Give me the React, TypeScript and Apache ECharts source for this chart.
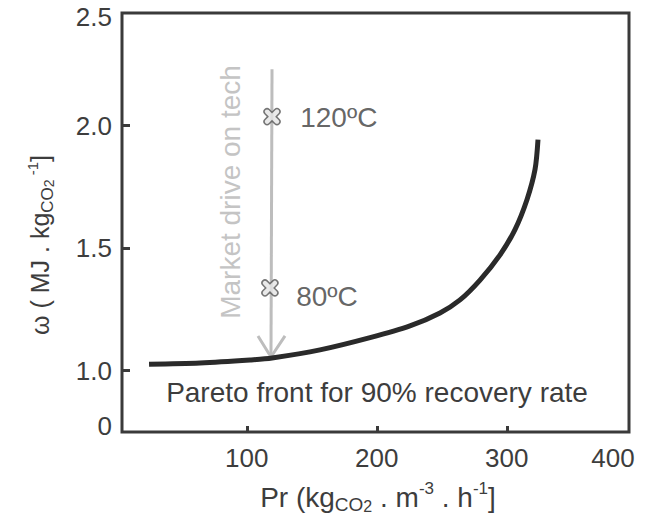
import React, { useEffect, useRef } from 'react';
import * as echarts from 'echarts';

// Pareto front (90% recovery rate)
const paretoX = [24.8, 64, 102.5, 119.4, 156.3, 194.8, 225.5, 248.6, 264, 279.4, 294.8, 306.3, 315.5, 321.7, 324];
const paretoY = [1.027, 1.032, 1.044, 1.052, 1.085, 1.135, 1.183, 1.236, 1.289, 1.37, 1.473, 1.576, 1.698, 1.821, 1.943];

// temperature markers
const tempNames = ['120ºC', '80ºC'];
const tempX = [119.4, 117.8];
const tempY = [2.037, 1.338];

// market drive arrow
const arrowShaftX = [119.4, 118.6];
const arrowShaftY = [2.23, 1.056];
const arrowHeadX = [108.6, 118.6, 129.4];
const arrowHeadY = [1.142, 1.056, 1.142];

// axes
const xMin = 4;
const xMax = 394;
const xTickValues = [100, 200, 300];
const xLabelValues = [100, 200, 300, 394];
const xLabelTexts = ['100', '200', '300', '400'];
const yMin = 0.75;
const yMax = 2.46;
const yTickValues = [1, 1.5, 2];
const yLabelValues = [0.775, 1, 1.5, 2, 2.445];
const yLabelTexts = ['0', '1.0', '1.5', '2.0', '2.5'];

const FONT = 'Liberation Sans, Arial, sans-serif';
const FRAME = '#3a3a3a';
const TXT = '#3d3d3d';

const crossPath =
  'path://M-0.32,-0.32 L-0.32,-0.75 A0.32,0.32 0 0 1 0.32,-0.75 L0.32,-0.32 L0.75,-0.32 A0.32,0.32 0 0 1 0.75,0.32 L0.32,0.32 L0.32,0.75 A0.32,0.32 0 0 1 -0.32,0.75 L-0.32,0.32 L-0.75,0.32 A0.32,0.32 0 0 1 -0.75,-0.32 Z';

const zip = (a: number[], b: number[]) => a.map((v, i) => [v, b[i]]);

const makeRich = (s: number) => ({
  n: { fontSize: s, lineHeight: Math.round(s * 1.22), fontFamily: FONT, fill: TXT },
  s: { fontSize: Math.round(s * 0.68), lineHeight: Math.round(s * 0.68), verticalAlign: 'bottom', fontFamily: FONT, fill: TXT },
  ss: { fontSize: Math.round(s * 0.57), lineHeight: Math.round(s * 0.57), verticalAlign: 'bottom', fontFamily: FONT, fill: TXT },
  p: { fontSize: Math.round(s * 0.6), lineHeight: Math.round(s * 0.6), verticalAlign: 'top', fontFamily: FONT, fill: TXT },
});

export default function App() {
  const ref = useRef<HTMLDivElement>(null);
  useEffect(() => {
    if (!ref.current) return;
    const chart = echarts.init(ref.current, undefined, { renderer: 'svg' });
    chart.setOption({
      animation: false,
      backgroundColor: '#ffffff',
      textStyle: { fontFamily: FONT },
      grid: {
        left: 122,
        right: 27,
        top: 13,
        bottom: 87,
        show: true,
        borderColor: FRAME,
        borderWidth: 3,
      },
      xAxis: {
        type: 'value',
        min: xMin,
        max: xMax,
        axisLine: { show: false },
        splitLine: { show: false },
        axisTick: {
          inside: true,
          length: 6,
          customValues: xTickValues,
          lineStyle: { color: FRAME, width: 3 },
        },
        axisLabel: {
          customValues: xLabelValues,
          margin: 13,
          fontSize: 26,
          color: TXT,
          fontFamily: FONT,
          formatter: (v: number) => {
            const i = xLabelValues.indexOf(v);
            const t = i >= 0 ? xLabelTexts[i] : '';
            return v === xMax ? '{r|' + t + '}' : t;
          },
          rich: {
            r: { fontSize: 26, color: TXT, fontFamily: FONT, padding: [0, 32, 0, 0] },
          },
        },
      },
      yAxis: {
        type: 'value',
        min: yMin,
        max: yMax,
        axisLine: { show: false },
        splitLine: { show: false },
        axisTick: {
          inside: true,
          length: 8,
          customValues: yTickValues,
          lineStyle: { color: FRAME, width: 3 },
        },
        axisLabel: {
          customValues: yLabelValues,
          margin: 10,
          fontSize: 26,
          color: TXT,
          fontFamily: FONT,
          formatter: (v: number) => {
            const i = yLabelValues.indexOf(v);
            return i >= 0 ? yLabelTexts[i] : '';
          },
        },
      },
      graphic: [
        {
          type: 'text',
          x: 40,
          y: 245,
          rotation: Math.PI / 2,
          style: {
            text: '{n|ω ( MJ . kg}{s|CO}{ss|2}{p| -1}{n|]}',
            align: 'center',
            verticalAlign: 'middle',
            fill: TXT,
            rich: makeRich(25),
          },
        },
        {
          type: 'text',
          x: 378,
          y: 497,
          style: {
            text: '{n|Pr (kg}{s|CO}{ss|2}{n| . m}{p|-3}{n| . h}{p|-1}{n|]}',
            align: 'center',
            verticalAlign: 'middle',
            fill: TXT,
            rich: makeRich(28),
          },
        },
        {
          type: 'text',
          x: 230,
          y: 192,
          rotation: Math.PI / 2,
          style: {
            text: 'Market drive on tech',
            align: 'center',
            verticalAlign: 'middle',
            fontSize: 28,
            fontFamily: FONT,
            fill: '#c4c4c4',
          },
        },
        {
          type: 'text',
          x: 377,
          y: 392,
          style: {
            text: 'Pareto front for 90% recovery rate',
            align: 'center',
            verticalAlign: 'middle',
            fontSize: 28,
            fontFamily: FONT,
            fill: TXT,
          },
        },
      ],
      series: [
        {
          type: 'line',
          data: zip(arrowShaftX, arrowShaftY),
          showSymbol: false,
          lineStyle: { color: '#bdbdbd', width: 3 },
          z: 2,
        },
        {
          type: 'line',
          data: zip(arrowHeadX, arrowHeadY),
          showSymbol: false,
          lineStyle: { color: '#bdbdbd', width: 3 },
          z: 2,
        },
        {
          type: 'line',
          data: zip(paretoX, paretoY),
          smooth: 0.3,
          showSymbol: false,
          lineStyle: { color: '#2a2a2a', width: 5, cap: 'butt' },
          z: 3,
        },
        {
          type: 'scatter',
          symbol: crossPath,
          symbolSize: 20,
          symbolRotate: 45,
          itemStyle: { color: '#e4e4e4', borderColor: '#555555', borderWidth: 1.5 },
          label: {
            show: true,
            position: 'right',
            distance: 13,
            fontSize: 28,
            fontFamily: FONT,
            color: TXT,
            formatter: (p: any) => p.name,
          },
          data: tempNames.map((n, i) => ({
            name: n,
            value: [tempX[i], tempY[i]],
            label: i === 1 ? { offset: [-2, 9] } : { offset: [0, 1] },
          })),
          z: 4,
        },
      ],
    });
    return () => chart.dispose();
  }, []);
  return <div ref={ref} style={{ position: 'fixed', left: 0, top: 0, width: 656, height: 519 }} />;
}
